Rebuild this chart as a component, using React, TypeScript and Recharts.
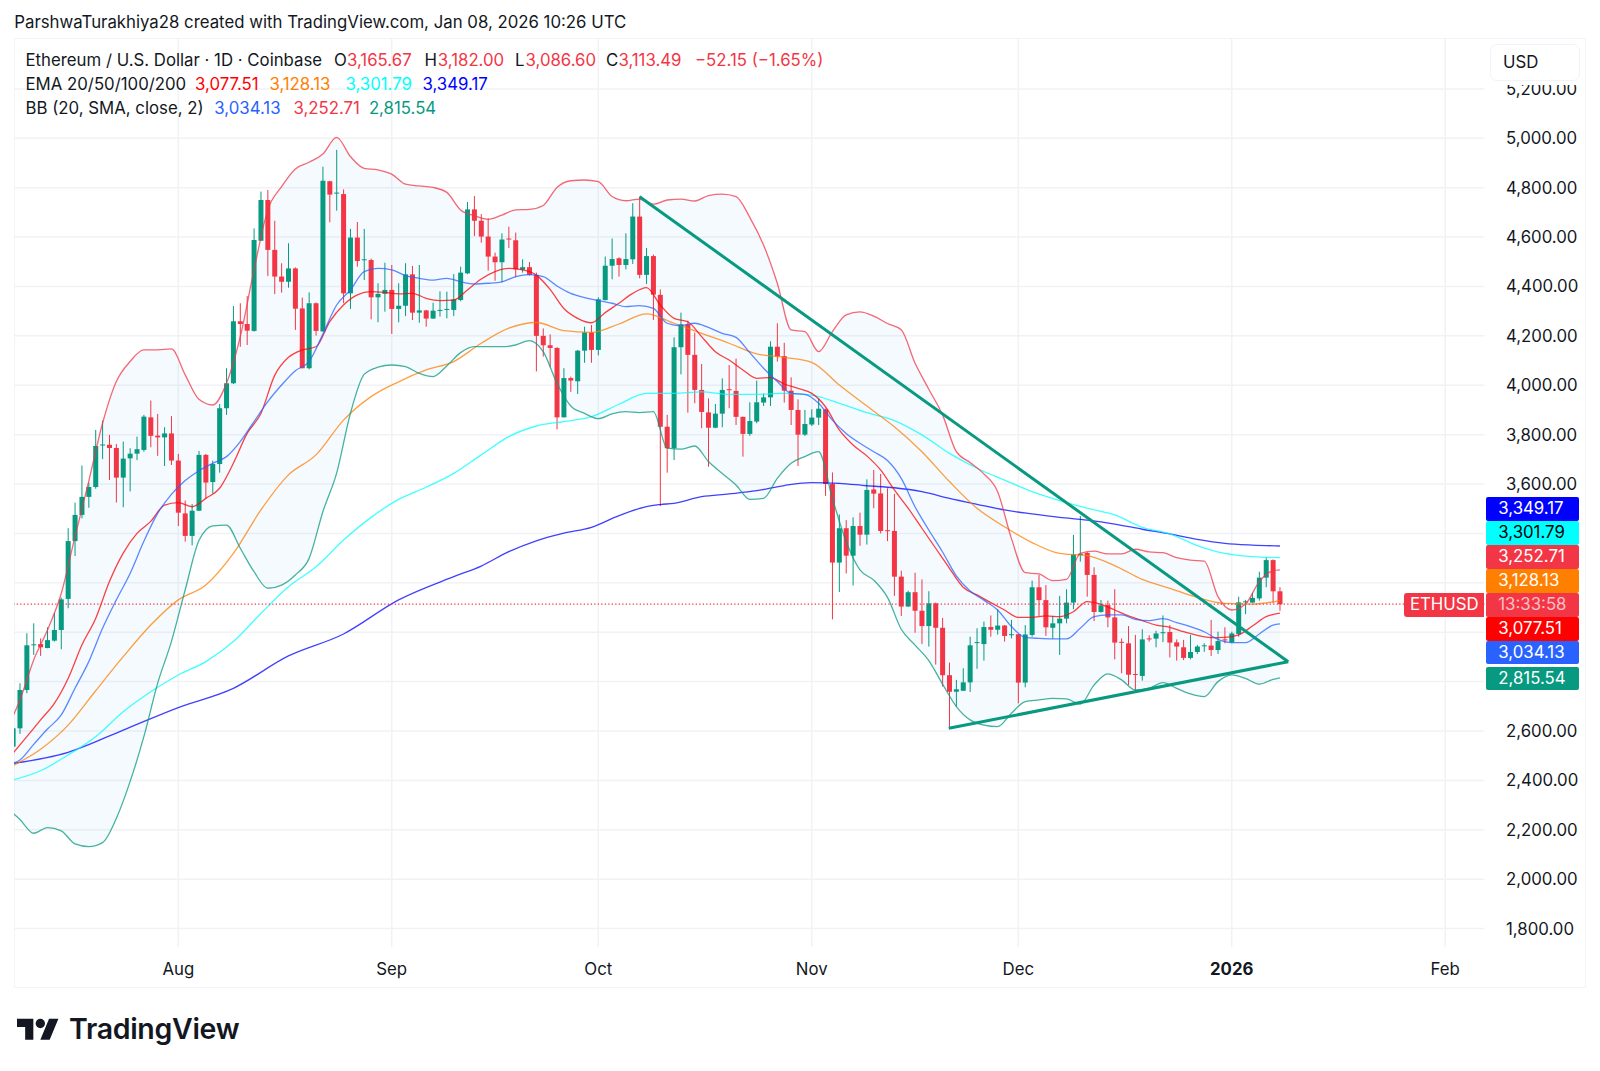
import React from "react"
import { Area, Bar, CartesianGrid, ComposedChart, Line, ReferenceLine, XAxis, YAxis } from "recharts"

const FONT = "Inter, sans-serif"
const INK = "#131722"
const UP = "#089981"
const DOWN = "#F23645"

// days counted from Aug 1 2025
const monthTicks = [0, 31, 61, 92, 122, 153, 184]
const monthLabels = ["Aug", "Sep", "Oct", "Nov", "Dec", "2026", "Feb"]
const priceTicks = [1800, 2000, 2200, 2400, 2600, 2800, 3000, 3200, 3400, 3600, 3800, 4000, 4200, 4400, 4600, 4800, 5000, 5200]
// these sit behind the price tags, their gridlines stay
const coveredTicks = [2800, 3000, 3200, 3400]

const firstDay = -24
// open, high, low, close, one row per day
const ohlc = [
  [2537, 2611, 2537, 2611], [2611, 2793, 2588, 2766], [2766, 2996, 2753, 2947], [2947, 3036, 2908, 2951],
  [2952, 2975, 2904, 2939], [2936, 3020, 2935, 2968], [2966, 3079, 2962, 3009], [3009, 3140, 2931, 3133],
  [3135, 3421, 3097, 3369], [3369, 3525, 3309, 3475], [3475, 3675, 3461, 3548], [3548, 3606, 3504, 3588],
  [3588, 3819, 3581, 3754], [3757, 3857, 3701, 3760], [3759, 3799, 3616, 3746], [3746, 3762, 3525, 3626],
  [3626, 3772, 3506, 3703], [3704, 3745, 3570, 3723], [3723, 3792, 3697, 3741], [3738, 3880, 3731, 3873],
  [3870, 3938, 3749, 3795], [3796, 3884, 3714, 3789], [3789, 3830, 3673, 3805], [3805, 3875, 3677, 3695],
  // Aug
  [3695, 3722, 3430, 3484], [3481, 3533, 3367, 3390], [3390, 3519, 3352, 3492], [3492, 3734, 3491, 3718],
  [3718, 3722, 3542, 3606], [3608, 3695, 3562, 3681], [3681, 3924, 3646, 3907], [3907, 4069, 3880, 4008],
  [4008, 4321, 4005, 4259], [4259, 4332, 4156, 4248], [4248, 4361, 4163, 4221], [4220, 4635, 4217, 4588],
  [4585, 4784, 4585, 4750], [4750, 4791, 4442, 4548], [4548, 4666, 4369, 4440], [4440, 4494, 4375, 4419],
  [4419, 4575, 4395, 4473], [4473, 4477, 4224, 4310], [4311, 4355, 4068, 4069], [4069, 4376, 4064, 4332],
  [4332, 4335, 4201, 4220], [4218, 4885, 4217, 4828], [4826, 4828, 4660, 4772], [4776, 4953, 4707, 4780],
  [4774, 4793, 4332, 4372], [4372, 4633, 4309, 4598], [4598, 4661, 4480, 4503], [4506, 4633, 4426, 4510],
  [4507, 4513, 4267, 4356], [4356, 4413, 4255, 4370], [4370, 4496, 4298, 4386],
  // Sep
  [4386, 4487, 4208, 4309], [4309, 4413, 4255, 4322], [4322, 4494, 4280, 4449], [4449, 4483, 4264, 4294],
  [4294, 4487, 4253, 4303], [4303, 4305, 4237, 4270], [4270, 4334, 4269, 4302], [4303, 4380, 4278, 4305],
  [4305, 4379, 4271, 4309], [4305, 4450, 4280, 4348], [4345, 4480, 4340, 4456], [4453, 4742, 4450, 4712],
  [4712, 4766, 4604, 4666], [4666, 4693, 4577, 4602], [4602, 4676, 4464, 4521], [4521, 4537, 4423, 4498],
  [4498, 4615, 4417, 4590], [4594, 4642, 4556, 4590], [4587, 4618, 4437, 4469], [4468, 4510, 4456, 4478],
  [4478, 4499, 4444, 4447], [4447, 4456, 4056, 4200], [4200, 4230, 4116, 4162], [4162, 4206, 4073, 4151],
  [4151, 4154, 3821, 3870], [3870, 4069, 3870, 4029], [4029, 4035, 3973, 4019], [4016, 4143, 3965, 4140],
  [4140, 4237, 4091, 4214], [4214, 4244, 4091, 4143],
  // Oct
  [4143, 4356, 4121, 4348], [4345, 4521, 4343, 4484], [4484, 4594, 4429, 4511], [4514, 4518, 4440, 4487],
  [4487, 4615, 4469, 4511], [4510, 4737, 4491, 4683], [4683, 4764, 4433, 4447], [4447, 4556, 4410, 4523],
  [4523, 4529, 4264, 4367], [4366, 4388, 3511, 3832], [3832, 3880, 3646, 3745], [3745, 4194, 3697, 4154],
  [4154, 4294, 4044, 4247], [4247, 4262, 3889, 4123], [4123, 4213, 3927, 3981], [3981, 4086, 3826, 3892],
  [3890, 3947, 3670, 3828], [3828, 3924, 3826, 3885], [3885, 4028, 3830, 3981], [3984, 4082, 3907, 3981],
  [3977, 4108, 3839, 3872], [3872, 3873, 3711, 3803], [3803, 3931, 3795, 3855], [3853, 4019, 3846, 3931],
  [3930, 3967, 3916, 3951], [3951, 4178, 3916, 4156], [4156, 4251, 4096, 4116], [4118, 4172, 3930, 3978],
  [3978, 4032, 3839, 3900], [3900, 3943, 3673, 3800], [3800, 3900, 3795, 3843],
  // Nov
  [3841, 3903, 3835, 3869], [3869, 3946, 3839, 3905], [3902, 3906, 3552, 3600], [3600, 3647, 3052, 3282],
  [3282, 3477, 3163, 3421], [3421, 3454, 3238, 3310], [3310, 3465, 3189, 3430], [3430, 3484, 3350, 3395],
  [3395, 3619, 3355, 3576], [3578, 3657, 3502, 3561], [3562, 3641, 3400, 3410], [3413, 3583, 3369, 3410],
  [3410, 3560, 3147, 3225], [3225, 3249, 3066, 3104], [3104, 3168, 3103, 3162], [3162, 3241, 2998, 3087],
  [3087, 3214, 2952, 3025], [3025, 3166, 2942, 3117], [3117, 3120, 2869, 3018], [3018, 3058, 2780, 2826],
  [2826, 2877, 2611, 2759], [2759, 2807, 2699, 2769], [2763, 2854, 2763, 2797], [2797, 2982, 2758, 2947],
  [2956, 3016, 2852, 2960], [2952, 3043, 2885, 3021], [3021, 3068, 2982, 3010], [3010, 3093, 2990, 3027],
  [3027, 3029, 2962, 2985], [2988, 3050, 2975, 2992],
  // Dec
  [2992, 2993, 2712, 2796], [2796, 3029, 2777, 2991], [2989, 3209, 2982, 3182], [3182, 3232, 3066, 3130],
  [3130, 3191, 2985, 3020], [3018, 3066, 2974, 3036], [3036, 3147, 2908, 3055], [3055, 3174, 3036, 3120],
  [3120, 3394, 3093, 3315], [3312, 3471, 3286, 3318], [3321, 3325, 3144, 3232], [3232, 3263, 3045, 3082],
  [3082, 3130, 3079, 3109], [3110, 3128, 3020, 3060], [3060, 3174, 2890, 2958], [2961, 2975, 2834, 2958],
  [2955, 3025, 2786, 2828], [2831, 2989, 2766, 2828], [2823, 3012, 2804, 2971], [2975, 2988, 2962, 2972],
  [2974, 3006, 2939, 2995], [2997, 3068, 2960, 3000], [3001, 3029, 2898, 2958], [2959, 2971, 2885, 2942],
  [2939, 2969, 2887, 2896], [2896, 2989, 2890, 2920], [2920, 2948, 2912, 2942], [2943, 2955, 2921, 2947],
  [2946, 3050, 2904, 2928], [2928, 3002, 2912, 2964], [2971, 3020, 2955, 2968],
  // Jan
  [2959, 3002, 2955, 2995], [2993, 3144, 2982, 3121], [3121, 3131, 3073, 3125], [3120, 3160, 3119, 3139],
  [3137, 3245, 3128, 3221], [3221, 3303, 3182, 3292], [3292, 3295, 3117, 3165.67], [3165.67, 3182, 3086.6, 3113.49],
]

// day, upper, basis, lower
const bollinger = [
  [-24, 2661, 2469, 2267], [-23, 2726, 2483, 2242], [-21, 2888, 2546, 2186], [-19, 3009, 2608, 2209],
  [-17, 3157, 2665, 2196], [-15, 3387, 2773, 2143], [-13, 3612, 2881, 2132], [-11, 3846, 3016, 2148],
  [-9, 4015, 3131, 2246], [-7, 4096, 3238, 2395], [-5, 4143, 3368, 2577], [-3, 4143, 3481, 2793],
  [-1, 4147, 3558, 2962], [1, 4042, 3614, 3171], [3, 3943, 3654, 3371], [5, 3920, 3684, 3431],
  [7, 4008, 3711, 3434], [9, 4197, 3772, 3340], [11, 4467, 3853, 3245], [13, 4710, 3934, 3178],
  [15, 4804, 4001, 3191], [17, 4876, 4059, 3232], [19, 4903, 4096, 3299], [21, 4936, 4207, 3488],
  [23, 5004, 4325, 3644], [25, 4926, 4386, 3886], [27, 4878, 4460, 4044], [29, 4872, 4473, 4073],
  [31, 4855, 4467, 4082], [33, 4814, 4444, 4075], [35, 4807, 4433, 4048], [37, 4801, 4426, 4035],
  [39, 4781, 4433, 4078], [41, 4710, 4419, 4132], [43, 4687, 4410, 4156], [45, 4672, 4413, 4156],
  [47, 4689, 4419, 4156], [49, 4710, 4440, 4163], [51, 4712, 4448, 4181], [53, 4728, 4440, 4136],
  [55, 4801, 4402, 4008], [57, 4828, 4372, 3916], [59, 4831, 4355, 3886], [61, 4824, 4343, 3865],
  [63, 4764, 4332, 3884], [65, 4747, 4318, 3893], [67, 4754, 4322, 3889], [69, 4733, 4311, 3893],
  [71, 4750, 4251, 3745], [73, 4754, 4241, 3741], [75, 4746, 4251, 3754], [77, 4768, 4234, 3691],
  [79, 4774, 4210, 3643], [81, 4764, 4194, 3596], [83, 4680, 4132, 3538], [85, 4568, 4069, 3542],
  [87, 4413, 4015, 3623], [89, 4224, 3967, 3684], [91, 4217, 3963, 3711], [93, 4136, 3927, 3731],
  [95, 4217, 3859, 3542], [97, 4285, 3805, 3367], [99, 4297, 3765, 3252], [101, 4280, 3731, 3211],
  [103, 4250, 3695, 3141], [105, 4225, 3623, 3012], [107, 4090, 3508, 2948], [109, 3984, 3414, 2885],
  [111, 3880, 3325, 2790], [113, 3731, 3228, 2699], [115, 3687, 3167, 2645], [117, 3641, 3130, 2624],
  [119, 3569, 3090, 2618], [121, 3380, 3023, 2672], [123, 3241, 2979, 2719], [125, 3236, 2975, 2726],
  [127, 3209, 2973, 2732], [129, 3214, 2973, 2730], [131, 3319, 3016, 2709], [133, 3328, 3063, 2786],
  [135, 3317, 3070, 2831], [137, 3317, 3070, 2807], [139, 3336, 3052, 2766], [141, 3325, 3047, 2773],
  [143, 3322, 3055, 2796], [145, 3302, 3039, 2773], [147, 3292, 3023, 2750], [149, 3288, 3002, 2739],
  [151, 3144, 2971, 2800], [153, 3090, 2958, 2827], [155, 3114, 2958, 2813], [157, 3205, 2993, 2790],
  [159, 3249, 3029, 2809], [160, 3252.71, 3034.13, 2815.54],
]

const ema20 = [
  [-24, 2510], [-22, 2577], [-20, 2645], [-18, 2712], [-16, 2813], [-14, 2948], [-12, 3056], [-10, 3205], [-8, 3320],
  [-6, 3400], [-4, 3449], [-2, 3515], [0, 3525], [2, 3508], [4, 3542], [6, 3583], [8, 3684], [10, 3805], [12, 3886],
  [14, 4040], [16, 4113], [18, 4143], [20, 4156], [22, 4258], [24, 4325], [26, 4366], [28, 4379], [30, 4376], [32, 4370],
  [34, 4372], [36, 4352], [38, 4343], [40, 4345], [42, 4386], [44, 4430], [46, 4460], [48, 4473], [50, 4467], [52, 4446],
  [54, 4388], [56, 4311], [58, 4271], [60, 4253], [62, 4294], [64, 4332], [66, 4372], [68, 4395], [70, 4325], [72, 4271],
  [74, 4257], [76, 4197], [78, 4136], [80, 4102], [82, 4062], [84, 4028], [86, 4031], [88, 4005], [90, 3987], [92, 3967],
  [94, 3913], [96, 3819], [98, 3758], [100, 3714], [102, 3657], [104, 3576], [106, 3502], [108, 3421], [110, 3340],
  [112, 3259], [114, 3182], [116, 3151], [118, 3120], [120, 3090], [122, 3060], [124, 3060], [126, 3066], [128, 3063],
  [130, 3083], [132, 3124], [134, 3113], [136, 3090], [138, 3066], [140, 3047], [142, 3029], [144, 3020], [146, 3002],
  [148, 2987], [150, 2978], [152, 2979], [154, 2989], [156, 3025], [158, 3063], [160, 3077.51],
]

const ema50 = [
  [-24, 2460], [-20, 2526], [-16, 2624], [-12, 2763], [-8, 2901], [-4, 3029], [0, 3131], [4, 3191], [8, 3319], [12, 3495],
  [16, 3637], [20, 3718], [24, 3859], [28, 3954], [32, 4014], [36, 4062], [40, 4096], [44, 4170], [48, 4231], [52, 4254],
  [56, 4221], [60, 4214], [64, 4248], [68, 4289], [72, 4251], [76, 4210], [80, 4170], [84, 4127], [88, 4113], [92, 4093],
  [96, 4001], [100, 3916], [104, 3832], [108, 3731], [112, 3610], [116, 3502], [120, 3427], [124, 3363], [128, 3319],
  [132, 3310], [136, 3270], [140, 3214], [144, 3178], [148, 3141], [152, 3117], [156, 3114], [160, 3128.13],
]

const ema100 = [
  [-24, 2402], [-20, 2439], [-16, 2503], [-12, 2577], [-8, 2678], [-4, 2759], [0, 2827], [4, 2881], [8, 2962], [12, 3076],
  [16, 3184], [20, 3265], [24, 3373], [28, 3465], [32, 3538], [36, 3587], [40, 3643], [44, 3718], [48, 3792], [52, 3835],
  [56, 3853], [60, 3873], [64, 3923], [68, 3967], [72, 3967], [76, 3973], [80, 3963], [84, 3963], [88, 3967], [92, 3960],
  [96, 3927], [100, 3889], [104, 3857], [108, 3799], [112, 3724], [116, 3664], [120, 3616], [124, 3569], [128, 3533],
  [132, 3502], [136, 3475], [140, 3425], [144, 3398], [148, 3351], [152, 3319], [156, 3306], [160, 3301.79],
]

const ema200 = [
  [-24, 2469], [-16, 2514], [-8, 2604], [0, 2695], [8, 2773], [16, 2904], [24, 2993], [32, 3131], [40, 3225], [44, 3268],
  [48, 3326], [52, 3370], [56, 3401], [60, 3425], [64, 3472], [68, 3509], [70, 3517], [72, 3522], [76, 3549], [80, 3560],
  [84, 3573], [88, 3594], [92, 3606], [96, 3603], [100, 3593], [104, 3585], [108, 3569], [112, 3542], [116, 3518],
  [120, 3495], [124, 3479], [128, 3465], [132, 3454], [136, 3438], [140, 3417], [144, 3398], [148, 3376], [152, 3360],
  [156, 3353], [160, 3349.17],
]

// drawn trend lines: day, price
const fallingTrend = [[67, 4763.5], [161.2, 2880.7]]
const risingTrend = [[111.9, 2611], [161.2, 2880.7]]

const lastClose = 3113.49

const candles = ohlc.map(([open, high, low, close], i) => ({ day: firstDay + i, open, high, low, close }))
const bands = bollinger.map(([day, upper, basis, lower]) => ({ day, upper, basis, lower }))
const toPoints = (rows: number[][]) => rows.map(([day, value]) => ({ day, value }))

function Candle(props: any) {
  const { x, y, width, height, payload } = props
  const { open, high, low, close } = payload
  const perUnit = height / (high - low)
  const fill = close >= open ? UP : DOWN
  const center = x + width / 2
  const bodyTop = y + (high - Math.max(open, close)) * perUnit
  const bodyHeight = Math.max(Math.abs(close - open) * perUnit, 1)
  return (
    <g>
      <line x1={center} x2={center} y1={y} y2={y + height} stroke={fill} strokeWidth={1} />
      <rect x={x} y={bodyTop} width={width} height={bodyHeight} fill={fill} />
    </g>
  )
}

function MonthTick({ x, y, payload }: any) {
  const label = monthLabels[monthTicks.indexOf(payload.value)]
  return (
    <text x={x} y={y + 20} textAnchor="middle" fontFamily={FONT} fontSize={16.8} fontWeight={label === "2026" ? 700 : 400} fill={INK}>
      {label}
    </text>
  )
}

function PriceTick({ x, y, payload }: any) {
  if (coveredTicks.includes(payload.value)) return null
  const label = payload.value.toLocaleString("en-US", { minimumFractionDigits: 2 })
  return (
    <text x={x + 13.5} y={y + 6} fontFamily={FONT} fontSize={16.8} fill={INK}>
      {label}
    </text>
  )
}

function Txt({ left, top, color = INK, size = 16.8, children }: any) {
  return (
    <div style={{ position: "absolute", left, top, color, fontSize: size, lineHeight: "24px", whiteSpace: "nowrap", fontFamily: FONT }}>
      {children}
    </div>
  )
}

function Tag({ top, bg, color = "#fff", children }: any) {
  return (
    <div
      style={{
        position: "absolute", left: 1486, top, width: 93, height: 23.4, background: bg, color, borderRadius: 2,
        fontFamily: FONT, fontSize: 16.8, lineHeight: "23.4px", paddingLeft: 12.3, boxSizing: "border-box",
      }}
    >
      {children}
    </div>
  )
}

export default function App() {
  const lineProps = { dataKey: "value", dot: false, activeDot: false, isAnimationActive: false, strokeWidth: 1.3, strokeOpacity: 0.75 } as const
  return (
    <div style={{ position: "absolute", left: 0, top: 0, width: 1600, height: 1071, background: "#fff", overflow: "hidden" }}>
      <Txt left={14.3} top={9.5}>ParshwaTurakhiya28 created with TradingView.com, Jan 08, 2026 10:26 UTC</Txt>

      <div style={{ position: "absolute", left: 14, top: 37.5, width: 1572, height: 950, border: "1.5px solid #f3f4f7", boxSizing: "border-box" }} />

      <div style={{ position: "absolute", left: 0, top: 0 }}>
        <ComposedChart width={1600} height={1071} data={candles} margin={{ left: 14, top: 38, right: 14, bottom: 84 }}>
          <CartesianGrid stroke="#f1f2f5" strokeWidth={1.5} syncWithTicks />
          <XAxis
            type="number"
            dataKey="day"
            domain={[-23.86, 189.71]}
            ticks={monthTicks}
            allowDataOverflow
            height={40}
            axisLine={false}
            tickLine={false}
            interval={0}
            tick={<MonthTick />}
          />
          <YAxis
            orientation="right"
            domain={[1725.5, 5406]}
            ticks={priceTicks}
            allowDataOverflow
            width={101.5}
            axisLine={false}
            tickLine={false}
            interval={0}
            tick={<PriceTick />}
          />
          <Area
            data={bands}
            dataKey={(d: any) => [d.lower, d.upper]}
            stroke="none"
            fill="#2196f3"
            fillOpacity={0.05}
            dot={false}
            activeDot={false}
            isAnimationActive={false}
          />
          <Line data={toPoints(ema200)} type="monotone" stroke="#0000ff" {...lineProps} />
          <Line data={toPoints(ema100)} type="monotone" stroke="#00ffff" {...lineProps} />
          <Line data={toPoints(ema50)} type="monotone" stroke="#ff7f00" {...lineProps} />
          <Line data={toPoints(ema20)} type="monotone" stroke="#ff0000" {...lineProps} />
          <Line data={bands} {...lineProps} dataKey="basis" type="monotone" stroke="#2962ff" />
          <Line data={bands} {...lineProps} dataKey="upper" type="monotone" stroke={DOWN} />
          <Line data={bands} {...lineProps} dataKey="lower" type="monotone" stroke={UP} />
          <Bar dataKey={(d: any) => [d.low, d.high]} barSize={5} shape={<Candle />} isAnimationActive={false} />
          <ReferenceLine y={lastClose} stroke={DOWN} strokeDasharray="1.3 2.2" strokeWidth={1.2} />
          <ReferenceLine
            segment={fallingTrend.map(([x, y]) => ({ x, y }))}
            stroke={UP}
            strokeWidth={3}
          />
          <ReferenceLine
            segment={risingTrend.map(([x, y]) => ({ x, y }))}
            stroke={UP}
            strokeWidth={3}
          />
        </ComposedChart>
      </div>

      <Txt left={25.5} top={47.5}>Ethereum / U.S. Dollar · 1D · Coinbase</Txt>
      <Txt left={334} top={47.5}>O</Txt>
      <Txt left={347} top={47.5} color={DOWN}>3,165.67</Txt>
      <Txt left={424.5} top={47.5}>H</Txt>
      <Txt left={437.8} top={47.5} color={DOWN}>3,182.00</Txt>
      <Txt left={515} top={47.5}>L</Txt>
      <Txt left={525.5} top={47.5} color={DOWN}>3,086.60</Txt>
      <Txt left={606} top={47.5}>C</Txt>
      <Txt left={618.4} top={47.5} color={DOWN}>3,113.49</Txt>
      <Txt left={695} top={47.5} color={DOWN}>−52.15 (−1.65%)</Txt>

      <Txt left={25.5} top={71.5}>EMA 20/50/100/200</Txt>
      <Txt left={195} top={71.5} color="#ff0000">3,077.51</Txt>
      <Txt left={269.4} top={71.5} color="#ff7f00">3,128.13</Txt>
      <Txt left={345.4} top={71.5} color="#00ffff">3,301.79</Txt>
      <Txt left={422.5} top={71.5} color="#0000ff">3,349.17</Txt>

      <Txt left={25.5} top={95.5}>BB (20, SMA, close, 2)</Txt>
      <Txt left={214.3} top={95.5} color="#2962ff">3,034.13</Txt>
      <Txt left={293.4} top={95.5} color={DOWN}>3,252.71</Txt>
      <Txt left={368.9} top={95.5} color={UP}>2,815.54</Txt>

      {/* the USD box also masks the top of the 5,200 label */}
      <div style={{ position: "absolute", left: 1490, top: 78, width: 90, height: 7, background: "#fff" }} />
      <div
        style={{
          position: "absolute", left: 1490, top: 43.5, width: 90, height: 37, background: "#fff", border: "1.5px solid #f0f3fa",
          borderRadius: 7, boxSizing: "border-box", fontFamily: FONT, fontSize: 16.8, lineHeight: "35px", paddingLeft: 12, color: INK,
        }}
      >
        USD
      </div>

      <Tag top={497.3} bg="#0000ff">3,349.17</Tag>
      <Tag top={521.3} bg="#00ffff" color="#000">3,301.79</Tag>
      <Tag top={545.4} bg={DOWN}>3,252.71</Tag>
      <Tag top={569.3} bg="#ff7f00">3,128.13</Tag>
      <Tag top={593.3} bg={DOWN} color="rgba(255,255,255,0.7)">13:33:58</Tag>
      <Tag top={617.2} bg="#ff0000">3,077.51</Tag>
      <Tag top={641} bg="#2962ff">3,034.13</Tag>
      <Tag top={667} bg={UP}>2,815.54</Tag>

      <div
        style={{
          position: "absolute", left: 1404.3, top: 593.3, width: 80, height: 23.4, background: DOWN, color: "#fff",
          borderRadius: "3px 0 0 3px", fontFamily: FONT, fontSize: 16.8, lineHeight: "23.4px", textAlign: "center",
        }}
      >
        ETHUSD
      </div>

      <svg style={{ position: "absolute", left: 16.7, top: 1013.6 }} width={42} height={33} viewBox="0 0 36 28" fill={INK}>
        <path d="M14 22H7V11H0V4h14v18zM28 22h-8l7.5-18h8L28 22z" />
        <circle cx="20" cy="8" r="4" />
      </svg>
      <div style={{ position: "absolute", left: 69, top: 1011, color: INK, fontFamily: FONT, fontSize: 28.5, fontWeight: 600, lineHeight: "36px", letterSpacing: "-0.3px" }}>
        TradingView
      </div>
    </div>
  )
}
